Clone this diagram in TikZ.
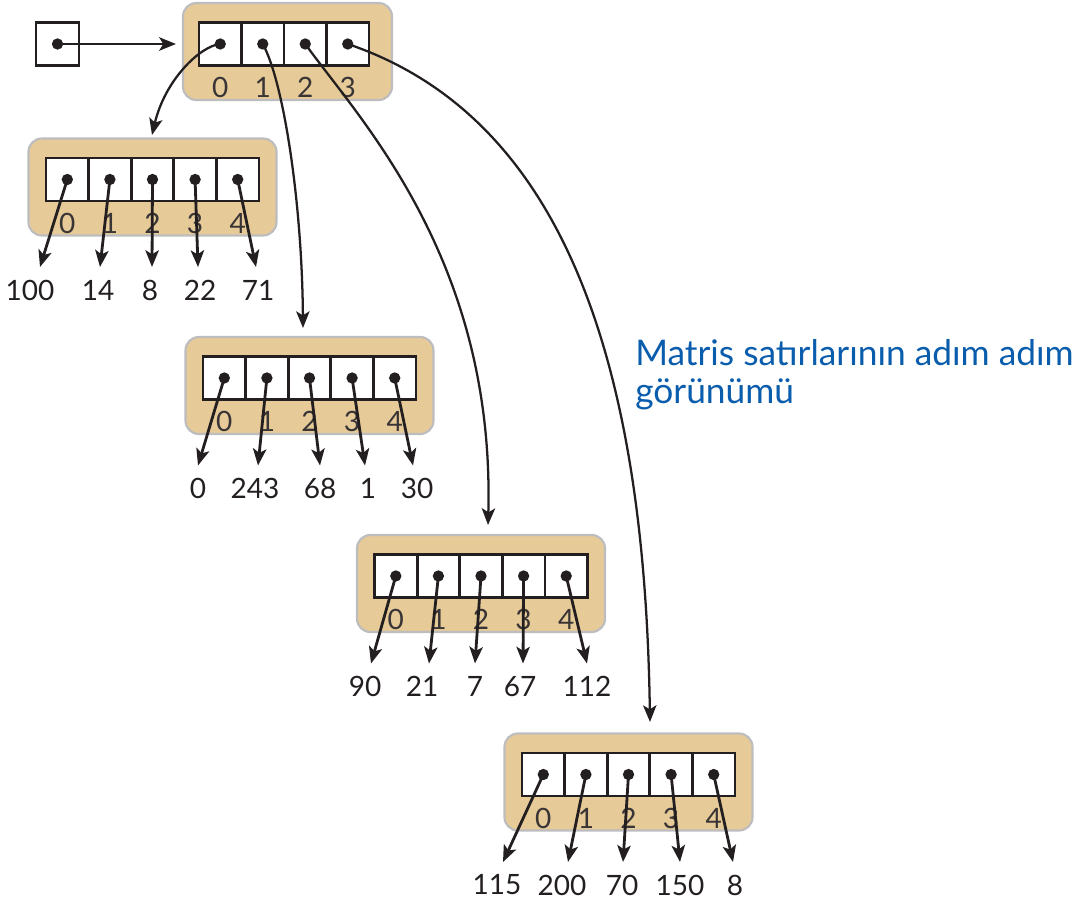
\documentclass[tikz,border=0pt]{standalone}
\usepackage{fontspec}
\setmainfont{Lato}
\usetikzlibrary{arrows.meta}
\definecolor{tanfill}{HTML}{E6CA97}
\definecolor{framegray}{HTML}{BDBDC0}
\definecolor{textblue}{HTML}{0A5CAD}
\definecolor{ink}{HTML}{231F20}
\tikzset{
  container/.style={draw=framegray, line width=1.6pt, fill=tanfill, rounded corners=10pt,
    minimum width=186pt, minimum height=72.75pt, inner sep=0pt},
  cellbox/.style={draw=ink, fill=white, line width=2.1pt, minimum width=31.95pt,
    minimum height=32.25pt, inner sep=0pt},
  dotmark/.style={circle, fill=ink, inner sep=0pt, minimum size=8.5pt},
  idxlabel/.style={font=\fontsize{21}{21}\selectfont, text=ink!90, inner sep=0pt},
  numlabel/.style={font=\fontsize{21}{21}\selectfont, text=ink, inner sep=0pt},
  ptr/.style={-{Stealth[length=12.5pt,width=10pt,inset=3pt]}, line width=2.1pt, draw=ink},
  curveptr/.style={-{Stealth[length=12.5pt,width=10pt,inset=3pt]}, line width=1.7pt, draw=ink},
}
\newcommand\drawmatrow[4]{%
  \node[container] (c#1) at (#2,#3) {};
  \foreach \i/\tx/\lx/\v in {#4} {
    \node[cellbox] (cell#1-\i) at ({#2+(\i-2)*42.6},{#3-7.5}) {};
    \node[idxlabel] (i#1-\i) at ({#2+(\i-2)*42.6},{#3+36}) {\i};
    \node[numlabel] (v#1-\i) at (\lx,{#3+103}) {\v};
    \coordinate (t#1-\i) at (\tx,{#3+80});
  }
  \foreach \i in {0,...,4} {
    \draw[ptr] (cell#1-\i.center) -- (t#1-\i);
    \node[dotmark] (d#1-\i) at (cell#1-\i.center) {};
  }
}
\begin{document}
\begin{tikzpicture}[x=0.75pt,y=-0.75pt]
\useasboundingbox (0,0) rectangle (1087,905);

% pointer variable
\node[cellbox, minimum width=32.25pt] (pbox) at (57.5,44) {};
% top array
\node[container, minimum width=156.75pt] (top) at (287.5,51.5) {};
\foreach \i in {0,...,3} {
  \node[cellbox, minimum width=31.9pt] (tc-\i) at ({220.25+\i*42.5},44) {};
  \node[idxlabel] (ti-\i) at ({220.25+\i*42.5},87) {\i};
}
\coordinate (pend) at (pbox -| top.west);
\draw[ptr, shorten >=4.5pt] (pbox.center) -- (pend);
\node[dotmark] (pdot) at (pbox.center) {};

% rows
\drawmatrow{0}{152.5}{187}{0/40/30/100, 1/100/98/14, 2/152/150/8, 3/198/200/22, 4/256/258/71}
\drawmatrow{1}{309.5}{385.5}{0/198/198/0, 1/258/255/243, 2/320/320/68, 3/365/368/1, 4/413/417/30}
\drawmatrow{2}{481}{583.5}{0/371/365/90, 1/429/422/21, 2/475/475/7, 3/523/520/67, 4/587/587/112}
\drawmatrow{3}{628.5}{782}{0/503/497/115, 1/568/562/200, 2/623/622/70, 3/680/680/150, 4/733/735/8}

% curved pointers from top array
\coordinate (ca) at (152,135);
\coordinate (cb) at (303,328);
\coordinate (cc) at (488,525);
\coordinate (cd) at (650,722);
\draw[curveptr] (tc-0.center) .. controls (200,46) and (165,80) .. (ca);
\draw[curveptr] (tc-1.center) .. controls (283,80) and (302,200) .. (cb);
\draw[curveptr] (tc-2.center) .. controls (360,120) and (495,260) .. (cc);
\draw[curveptr] (tc-3.center) .. controls (572,120) and (645,380) .. (cd);
\foreach \i in {0,...,3} {
  \node[dotmark] (td-\i) at (tc-\i.center) {};
}

% caption
\node[anchor=base west, align=left, text=textblue, inner sep=0pt,
  font=\fontsize{26.5}{28.5}\selectfont] (cap) at (635,403)
  {Matris satırlarının adım adım\\görünümü};
\end{tikzpicture}
\end{document}
